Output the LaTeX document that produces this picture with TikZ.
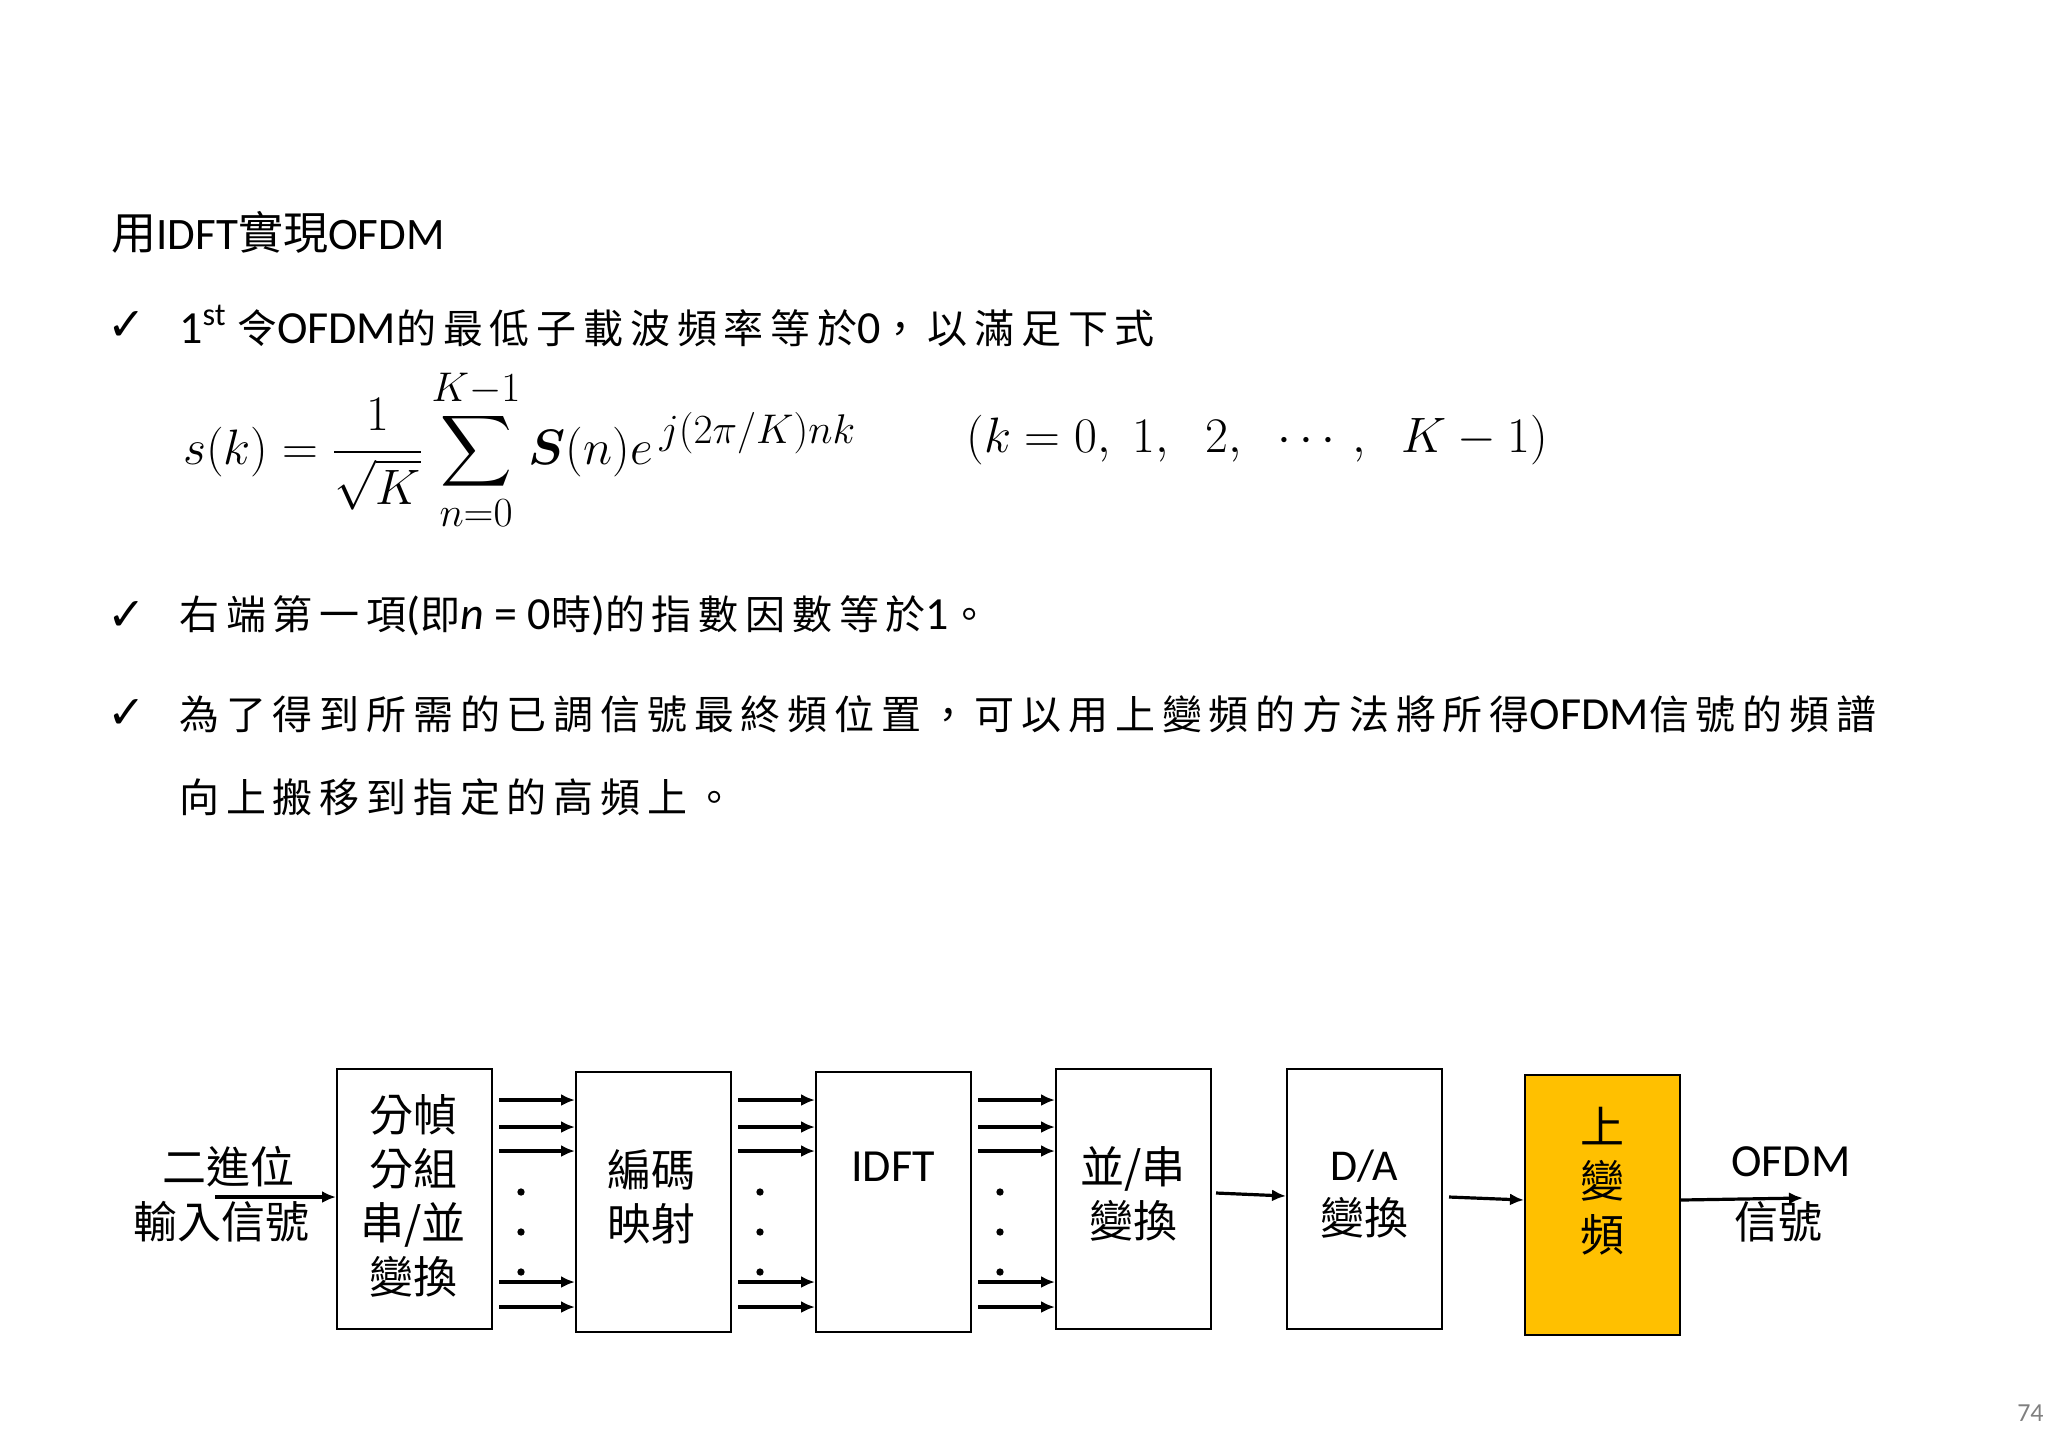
\documentclass[tikz,border=0pt]{standalone}
\usepackage{fontspec}
\usepackage{amsmath}
\setmainfont{Carlito}
\newfontfamily\cjk{Noto Sans CJK TC}
\newfontfamily\cjks[LetterSpace=17]{Noto Sans CJK TC}
\newfontfamily\dvs{DejaVu Sans}
\newcommand{\cj}[1]{{\cjks\fontsize{20}{24}\selectfont #1}}
\begin{document}
\begin{tikzpicture}[x=0.5pt,y=-0.5pt,
  blk/.style={draw,line width=1pt,minimum width=77.5pt,minimum height=130pt,anchor=north west,inner sep=0pt},
  arr/.style={-{Latex[length=7pt,width=6pt]},line width=1.6pt},
  txt/.style={anchor=west,inner sep=0pt,font=\fontsize{23}{26}\selectfont},
  lab/.style={inner sep=0pt,font=\cjk\fontsize{22}{26}\selectfont},
  dot/.style={circle,fill,inner sep=1.3pt}]
\useasboundingbox (0,0) rectangle (2048,1447);
\usetikzlibrary{arrows.meta}
% text
\node[txt,font=\fontsize{22.5}{25}\selectfont] (title) at (111,232) {{\cjk 用}IDFT{\cjk 實現}OFDM};
\node[txt] (b1) at (107,326) {\dvs ✓};
\node[txt] (l1) at (179,326) {1\textsuperscript{st} \cj{令}OFDM\cj{的最低子載波頻率等於}0\cj{，以滿足下式}};
\node[anchor=west,inner sep=0pt,font=\fontsize{29.5}{34}\selectfont] (eq) at (183,450)
  {$s(k)=\dfrac{1}{\sqrt{K}}\displaystyle\sum_{n=0}^{K-1}\boldsymbol{S}(n)e^{\,j(2\pi/K)nk}$};
\node[anchor=west,inner sep=0pt,font=\fontsize{23}{28}\selectfont] (eq2) at (966,440)
  {$(k=0,\;1,\;\;2,\;\;\cdots,\;\;K-1)$};
\node[txt] (b2) at (107,616) {\dvs ✓};
\node[txt] (l2) at (179,616) {\cj{右端第一項}(\cj{即}\textit{n} = 0\cj{時})\cj{的指數因數等於}1\cj{。}};
\node[txt] (b3) at (107,714) {\dvs ✓};
\node[txt] (l3) at (179,714) {\cj{為了得到所需的已調信號最終頻位置，可以用上變頻的方法將所得}OFDM\cj{信號的頻譜}};
\node[txt] (l4) at (179,797) {\cj{向上搬移到指定的高頻上。}};
\node[anchor=east,inner sep=0pt,text=gray,font=\fontsize{13}{15}\selectfont] (pg) at (2044,1413) {74};
% blocks
\node[blk] (k1) at (336,1068) {};
\node[blk] (k2) at (575,1071) {};
\node[blk] (k3) at (815,1071) {};
\node[blk] (k4) at (1055,1068) {};
\node[blk] (k5) at (1286,1068) {};
\node[blk,fill={rgb,255:red,255;green,192;blue,0}] (k6) at (1524,1074) {};
\node[lab,align=center] (t1) at (413,1196) {分幀\\[1pt]分組\\[1pt]串/並\\[1pt]變換};
\node[lab,align=center] (t2) at (651,1197) {編碼\\[1pt]映射};
\node[inner sep=0pt,font=\fontsize{23}{26}\selectfont] (t3) at (893,1167) {IDFT};
\node[lab,align=center] (t4) at (1133,1194) {並/串\\[1pt]變換};
\node[lab,align=center] (t5) at (1364,1194) {{\fontspec{Carlito}D/A}\\[1pt]變換};
\node[lab,align=center] (t6) at (1602,1181) {上\\[1pt]變\\[1pt]頻};
\node[lab] (in1) at (228,1167) {二進位};
\node[lab] (in2) at (221,1222) {輸入信號};
\node[inner sep=0pt,font=\fontsize{23}{26}\selectfont] (o1) at (1791,1162) {OFDM};
\node[lab] (o2) at (1778,1222) {信號};
% arrows
\coordinate (ins) at (215,1197);
\draw[arr] (ins) -- (k1.west |- ins);
\foreach \a/\b/\x in {k1/k2/521,k2/k3/760,k3/k4/1000}{
  \foreach \y in {1100,1127,1151,1282,1307}{
    \draw[arr] (\a.east |- 0,\y) ++(6,0) -- (\b.west |- 0,\y);
  }
  \foreach \y in {1192,1232,1272}{\node[dot] at (\x,\y) {};}
}
\draw[arr] (k4.east |- 0,1193) ++(4,0) -- (k5.west |- 0,1196);
\draw[arr] (k5.east |- 0,1197) ++(6,0) -- (k6.west |- 0,1200);
\coordinate (outs) at (1803,1198);
\draw[arr] (k6.east |- 0,1200) -- (outs);
\end{tikzpicture}
\end{document}
